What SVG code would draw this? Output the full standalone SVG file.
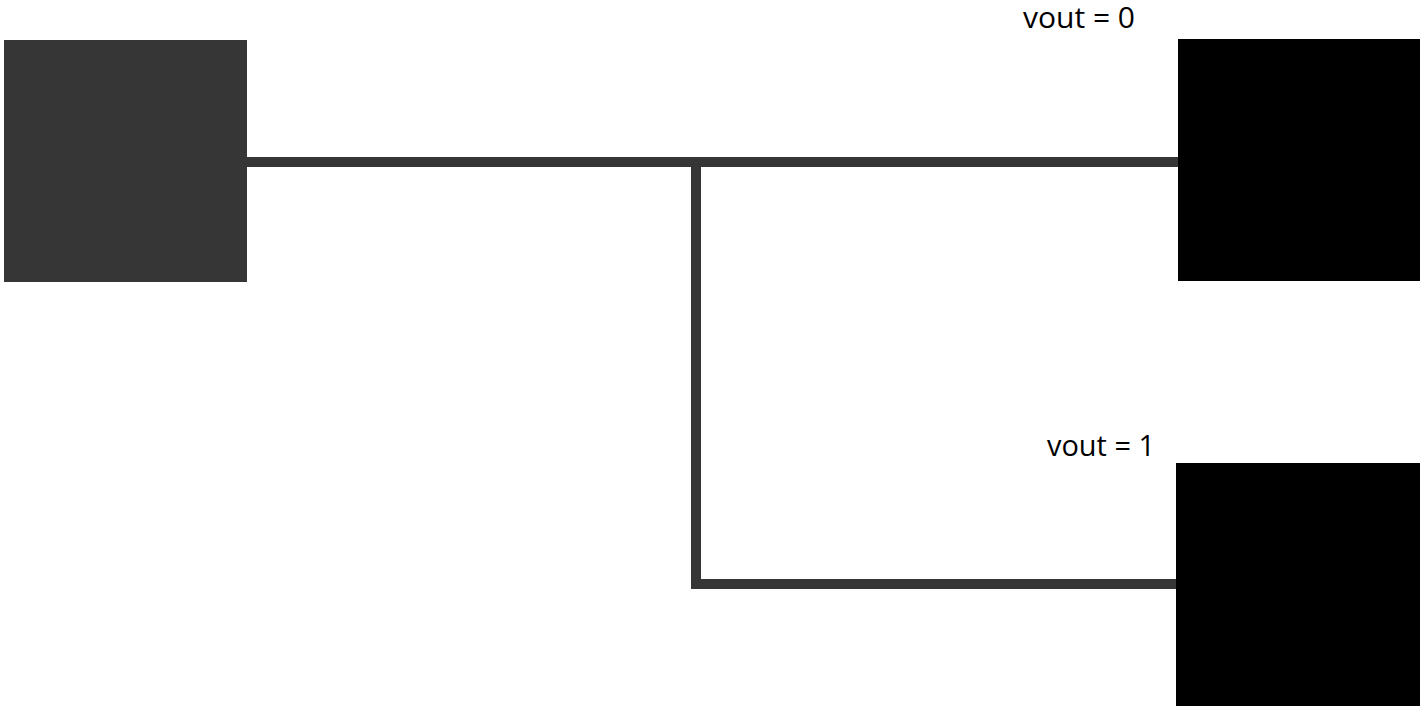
<svg xmlns="http://www.w3.org/2000/svg" width="1425" height="711" viewBox="0 0 1425 711">
<style>
.lbl{font-family:"Open Sans","Liberation Sans",sans-serif;font-size:30px;font-weight:500;fill:#000}
.wire{stroke:#363636;stroke-width:10;fill:none;stroke-linejoin:miter}
</style>
<rect width="1425" height="711" fill="#fff"/>
<g id="connectors">
<polyline class="wire" points="247,162 1178,162"/>
<polyline class="wire" points="696,162 696,584 1176,584"/>
</g>
<g id="source"><rect x="4" y="40" width="243" height="242" fill="#363636"/></g>
<g id="out0"><rect x="1178" y="39" width="242" height="242" fill="#000"/>
<text class="lbl" x="1023" y="28" textLength="112" lengthAdjust="spacingAndGlyphs">vout = 0</text></g>
<g id="out1"><rect x="1176" y="463" width="244" height="243" fill="#000"/>
<text class="lbl" x="1047" y="456" textLength="108" lengthAdjust="spacingAndGlyphs">vout = 1</text></g>
</svg>
